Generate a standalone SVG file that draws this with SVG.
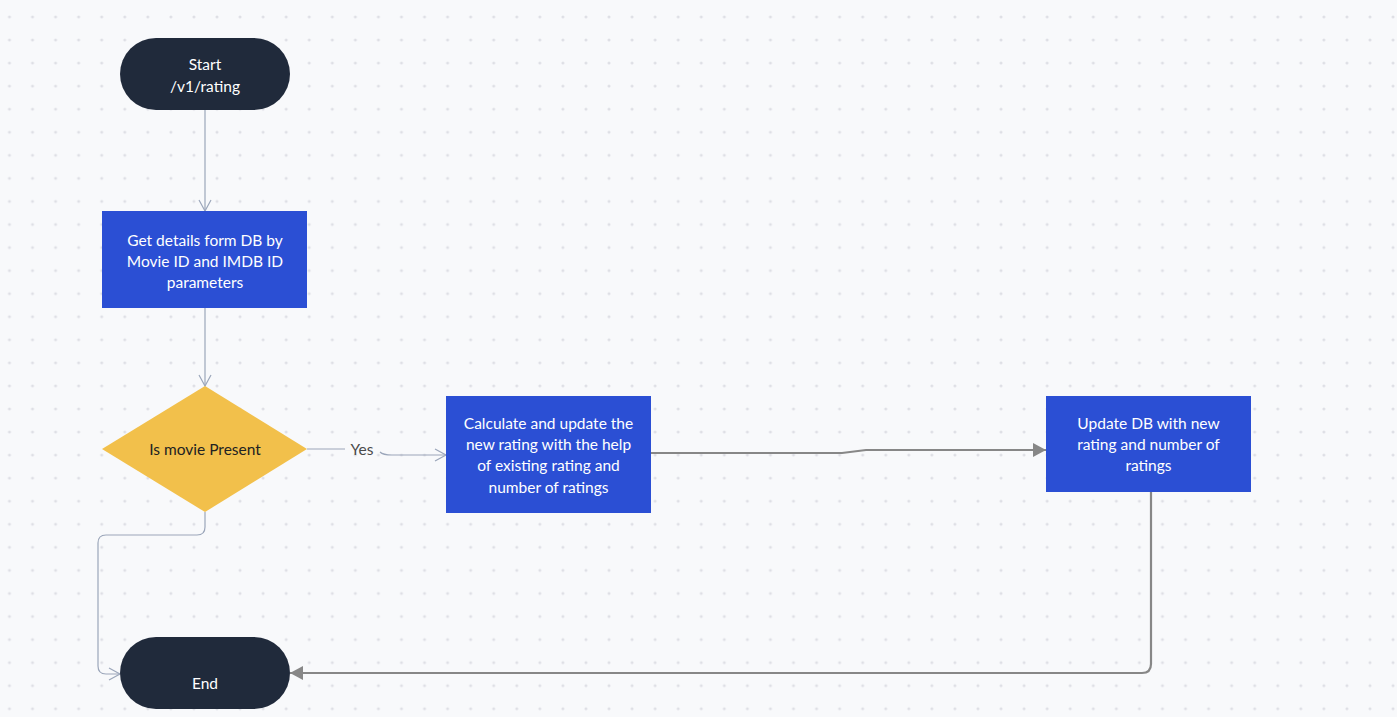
<svg xmlns="http://www.w3.org/2000/svg" width="1397" height="717" viewBox="0 0 1397 717">
<defs>
<pattern id="dots" x="101.7" y="40" width="23.06" height="23.06" patternUnits="userSpaceOnUse">
<circle cx="0" cy="0" r="1.5" fill="#dedfe5"/>
<circle cx="23.06" cy="0" r="1.5" fill="#dedfe5"/>
<circle cx="0" cy="23.06" r="1.5" fill="#dedfe5"/>
<circle cx="23.06" cy="23.06" r="1.5" fill="#dedfe5"/>
</pattern>
<marker id="open" markerWidth="16" markerHeight="16" refX="12" refY="7" orient="auto" markerUnits="userSpaceOnUse">
<path d="M1,1 L12,7 L1,13" fill="none" stroke="#9ba6ba" stroke-width="1.2"/>
</marker>
<marker id="solid" markerWidth="16" markerHeight="16" refX="13" refY="8" orient="auto" markerUnits="userSpaceOnUse">
<path d="M0,1 L13,8 L0,15 Z" fill="#878787"/>
</marker>
</defs>
<style>
.term{fill:#202a3b}
.proc{fill:#2b4fd4}
.dec{fill:#f2c04b}
.wt{font-family:Lato,"Noto Sans",sans-serif;font-size:15.5px;fill:#ffffff;text-anchor:middle}
.dt{font-family:Lato,"Noto Sans",sans-serif;font-size:15.5px;fill:#222222;text-anchor:middle}
.lt{font-family:Lato,"Noto Sans",sans-serif;font-size:15.5px;fill:#4a4a4a;text-anchor:middle}
.thin{fill:none;stroke:#9ba6ba;stroke-width:1.2}
.thick{fill:none;stroke:#878787;stroke-width:2.2}
</style>
<rect width="1397" height="717" fill="#f8f9fb"/>
<rect width="1397" height="717" fill="url(#dots)"/>
<g id="connectors">
<path class="thin" d="M205,110 L205,211" marker-end="url(#open)"/>
<path class="thin" d="M205,308 L205,386" marker-end="url(#open)"/>
<path class="thin" d="M307,449 L345,449"/>
<path class="thin" d="M380,452 Q383,455 392,455 L446,455" marker-end="url(#open)"/>
<path class="thin" d="M205,512 L205,527 Q205,535 197,535 L106,535 Q98,535 98,543 L98,666 Q98,674 106,674 L120,674" marker-end="url(#open)"/>
<path class="thick" d="M651,453 L842,453 L866,450 L1046,450" marker-end="url(#solid)"/>
<path class="thick" d="M1151,492 L1151,664 Q1151,673 1142,673 L290,673" marker-end="url(#solid)"/>
<text class="lt" x="362" y="455">Yes</text>
</g>
<g id="start">
<rect class="term" x="120" y="38" width="170" height="72" rx="36"/>
<text class="wt" x="205" y="70">Start</text>
<text class="wt" x="205" y="92">/v1/rating</text>
</g>
<g id="get-details">
<rect class="proc" x="102" y="211" width="205" height="97"/>
<text class="wt" x="205" y="246">Get details form DB by</text>
<text class="wt" x="205" y="267">Movie ID and IMDB ID</text>
<text class="wt" x="205" y="288">parameters</text>
</g>
<g id="is-movie-present">
<polygon class="dec" points="205,386 307,449 205,512 102,449"/>
<text class="dt" x="205" y="455">Is movie Present</text>
</g>
<g id="calculate">
<rect class="proc" x="446" y="396" width="205" height="117"/>
<text class="wt" x="548.5" y="429">Calculate and update the</text>
<text class="wt" x="548.5" y="450">new rating with the help</text>
<text class="wt" x="548.5" y="471">of existing rating and</text>
<text class="wt" x="548.5" y="493">number of ratings</text>
</g>
<g id="update-db">
<rect class="proc" x="1046" y="396" width="205" height="96"/>
<text class="wt" x="1148.5" y="429">Update DB with new</text>
<text class="wt" x="1148.5" y="450">rating and number of</text>
<text class="wt" x="1148.5" y="471">ratings</text>
</g>
<g id="end">
<rect class="term" x="120" y="637" width="170" height="72" rx="36"/>
<text class="wt" x="205" y="689">End</text>
</g>
</svg>
